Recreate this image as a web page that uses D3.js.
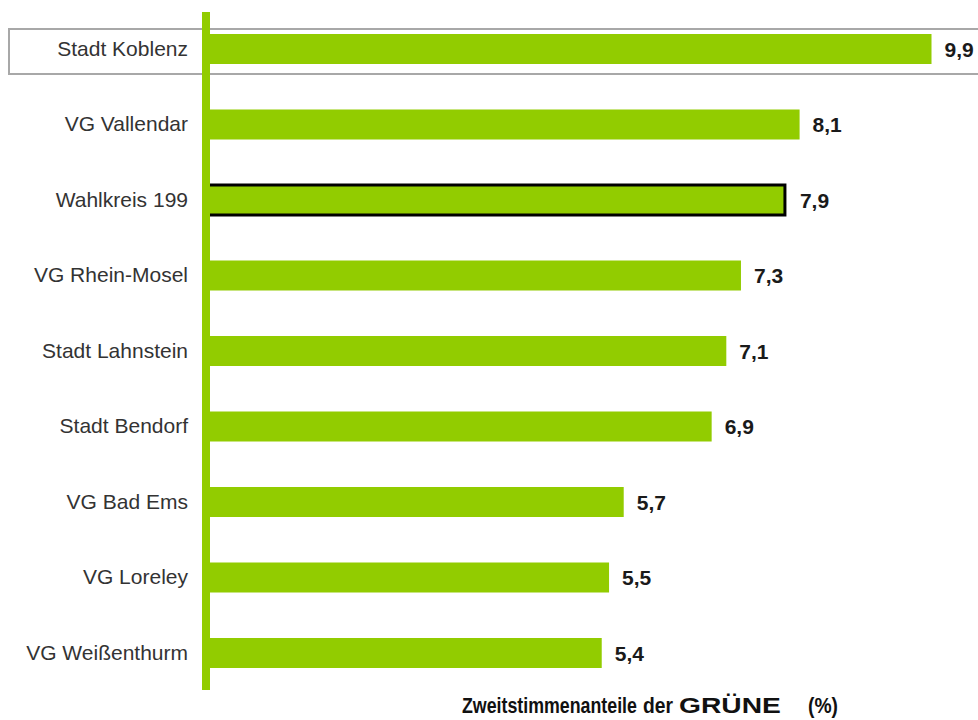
<!DOCTYPE html>
<html><head><meta charset="utf-8">
<script src="https://cdn.jsdelivr.net/npm/d3@7"></script>
<style>
html,body{margin:0;padding:0;background:#fff;}
svg{display:block;font-family:Arial,"Liberation Sans",sans-serif;}
</style></head>
<body>
<svg id="c" width="978" height="720"></svg>
<script>
const categories = ["Stadt Koblenz","VG Vallendar","Wahlkreis 199","VG Rhein-Mosel","Stadt Lahnstein","Stadt Bendorf","VG Bad Ems","VG Loreley","VG Weißenthurm"];
const values = [9.9, 8.1, 7.9, 7.3, 7.1, 6.9, 5.7, 5.5, 5.4];
const valueLabels = ["9,9","8,1","7,9","7,3","7,1","6,9","5,7","5,5","5,4"];
const highlightBox = "Stadt Koblenz";
const outlined = "Wahlkreis 199";
const titleParts = ["Zweitstimmenanteile", "der", "GRÜNE", "(%)"];

const svg = d3.select("#c");
const green = "#92cc00";

const x = d3.scaleLinear().domain([0, 9.9]).range([206, 931.5]);
const y = d3.scaleBand().domain(categories).range([11.25, 690.75]).padding(0);
const barH = 30;

// highlight box
svg.append("rect")
  .attr("x", 9).attr("y", y(highlightBox) + y.bandwidth()/2 - 20)
  .attr("width", 980).attr("height", 45)
  .attr("fill", "none").attr("stroke", "#a8a8a8").attr("stroke-width", 2);

const data = categories.map((c,i)=>({c, v: values[i], l: valueLabels[i]}));

svg.selectAll("rect.bar").data(data).join("rect")
  .attr("class","bar")
  .attr("x", x(0))
  .attr("y", d => y(d.c) + y.bandwidth()/2 - barH/2)
  .attr("width", d => x(d.v) - x(0))
  .attr("height", barH)
  .attr("fill", green)
  .attr("stroke", d => d.c === outlined ? "#000" : "none")
  .attr("stroke-width", 3);

svg.selectAll("text.val").data(data).join("text")
  .attr("class","val")
  .attr("x", d => x(d.v) + (d.c === outlined ? 15 : 13))
  .attr("y", d => y(d.c) + y.bandwidth()/2)
  .attr("dy", "0.36em")
  .attr("font-size", 21).attr("font-weight", "bold").attr("fill", "#1a1a1a")
  .text(d => d.l);

// axis
const ax = svg.append("g").attr("transform", `translate(${x(0)},0)`)
  .call(d3.axisLeft(y).tickSize(0).tickSizeOuter(0).tickPadding(18));
ax.select(".domain").attr("stroke", green).attr("stroke-width", 8)
  .attr("d", `M0,12V690`);
ax.selectAll(".tick text").attr("font-size", 21).attr("fill", "#333")
  .attr("font-family", "Arial, 'Liberation Sans', sans-serif");

// title (axis label), split into pieces matching the reference spacing
const starts = [462, 643, 679, 808];
const lens = [175, 30, 102, 30];
svg.selectAll("text.title").data(titleParts).join("text")
  .attr("class", "title")
  .attr("x", 0).attr("y", 0)
  .attr("font-size", 22).attr("font-weight", "bold").attr("fill", "#111")
  .text(d => d)
  .each(function(d,i){
    const w = this.getComputedTextLength();
    d3.select(this).attr("transform", `translate(${starts[i]},713) scale(${lens[i]/w},1)`);
  });
</script>
</body></html>
